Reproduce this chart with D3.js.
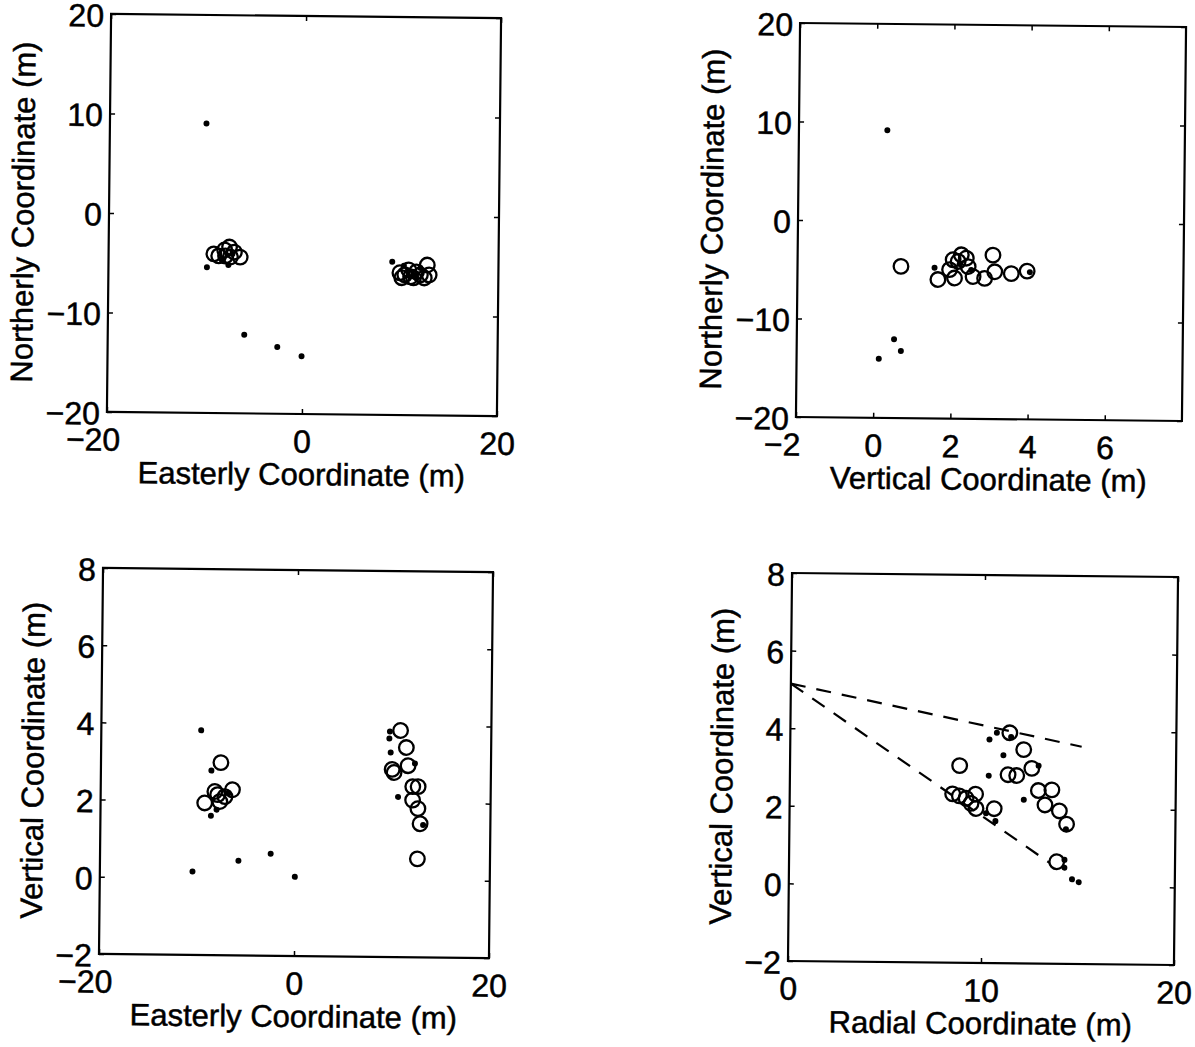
<!DOCTYPE html>
<html>
<head>
<meta charset="utf-8">
<script src="https://cdn.jsdelivr.net/npm/d3@7"></script>
<style>
  body { margin: 0; background: #fff; }
  text { font-family: "Liberation Sans", Arial, Helvetica, sans-serif; fill: #000; stroke: #000; stroke-width: 0.5; }
</style>
</head>
<body>
<svg id="fig" width="1195" height="1047"></svg>
<script>
// ---- data ----

// panel 1: easterly (x) vs northerly (y)
const enRings = [[-9.2,-4.0],[-8.1,-3.6],[-7.6,-3.3],[-7.1,-3.8],[-6.5,-4.3],[-8.0,-4.2],[-7.5,-4.3],[-8.7,-4.2],
  [9.9,-5.7],[10.8,-5.4],[11.6,-5.6],[12.7,-4.9],[12.9,-5.9],[12.0,-5.9],[10.1,-6.2],[11.0,-6.1],[12.4,-6.2],[11.3,-6.2],[10.4,-5.9]];
const enDots = [[-10.1,9.1],[-9.9,-5.35],[-6.0,-12.1],[-2.6,-13.3],[-0.1,-14.2],[-7.7,-5.1],[-8.3,-4.6],[-7.3,-4.0],
  [9.1,-4.6],[10.3,-5.0],[12.0,-5.2],[11.5,-6.0]];

// panel 2: vertical (x) vs northerly (y)
const vnRings = [[0.68,-4.6],[1.64,-5.9],[2.07,-5.73],[2.16,-4.04],[2.24,-3.36],[2.37,-3.7],[2.55,-5.56],[2.85,-5.73],
  [3.06,-3.36],[3.11,-5.05],[3.54,-5.22],[3.95,-4.95],[1.94,-4.88],[2.03,-3.87],[2.42,-4.55]];
const vnDots = [[0.29,9.2],[0.52,-12.0],[0.70,-13.2],[0.13,-14.0],[1.55,-4.7],[4.02,-5.05],[2.2,-4.3],[2.5,-4.9]];

// panel 3: easterly (x) vs vertical (y)
const evRings = [[-9.32,1.94],[-8.29,2.24],[-7.77,1.98],[-6.49,2.29],[-7.25,2.11],[-7.7,2.99],[-8.0,2.16],
  [10.69,3.87],[11.3,3.43],[11.5,2.96],[9.87,2.86],[10.07,2.78],[12.0,2.42],[12.55,2.42],[12.0,2.07],[12.55,1.85],[12.79,1.46],[12.55,0.55]];
const evDots = [[-9.76,3.82],[-10.5,0.16],[-5.8,0.45],[-2.5,0.64],[0,0.05],[-8.67,2.78],[-8.67,1.61],[-8.1,1.77],[-6.9,2.2],
  [9.6,3.84],[9.55,3.66],[9.7,3.3],[10.5,2.15],[12.2,3.02],[13.1,1.43]];

// panel 4: radial (x) vs vertical (y), with two dashed bounding lines
const rvRings = [[8.79,3.08],[8.44,2.35],[8.79,2.3],[9.14,2.24],[9.63,2.35],[9.4,2.11],[9.66,1.98],[10.6,1.98],
  [11.37,3.94],[12.1,3.51],[12.53,3.03],[11.3,2.86],[11.75,2.84],[12.88,2.46],[13.58,2.48],[13.23,2.09],[13.98,1.94],[14.36,1.6],[13.87,0.63]];
const rvDots = [[10.7,3.94],[10.32,3.76],[11.44,3.83],[11.05,3.36],[10.3,2.83],[12.13,2.22],[12.88,3.1],[10.67,1.66],
  [14.33,1.47],[14.27,0.68],[14.27,0.48],[14.67,0.18],[15.02,0.11],[10.18,1.86]];
const rvUpperLine = [[0,5.15],[15.1,3.6]];
const rvLowerLine = [[0,5.15],[13.5,0.6]];

// ticks
const eTicks = [-20, 0, 20];
const nTicks = [-20, -10, 0, 10, 20];
const vTicksX = [-2, 0, 2, 4, 6];
const vTicks = [-2, 0, 2, 4, 6, 8];
const rTicks = [0, 10, 20];

// ---- layout ----
const tilt = 0.6; // the scanned page is slightly rotated
const panels = [
  {cx:304, cy:215, w:390, h:398, xDom:[-20,20], yDom:[-20,20], xTicks:eTicks, yTicks:nTicks,
   xLabel:'Easterly Coordinate (m)', yLabel:'Northerly Coordinate (m)', rings:enRings, dots:enDots},
  {cx:991, cy:222, w:386, h:394, xDom:[-2,8], yDom:[-20,20], xTicks:vTicksX, yTicks:nTicks,
   xLabel:'Vertical Coordinate (m)', yLabel:'Northerly Coordinate (m)', rings:vnRings, dots:vnDots},
  {cx:296, cy:763, w:390, h:386, xDom:[-20,20], yDom:[-2,8], xTicks:eTicks, yTicks:vTicks,
   xLabel:'Easterly Coordinate (m)', yLabel:'Vertical Coordinate (m)', rings:evRings, dots:evDots},
  {cx:983, cy:769, w:386, h:388, xDom:[0,20], yDom:[-2,8], xTicks:rTicks, yTicks:vTicks,
   xLabel:'Radial Coordinate (m)', yLabel:'Vertical Coordinate (m)', rings:rvRings, dots:rvDots,
   lines:[rvUpperLine, rvLowerLine]}
];

const svg = d3.select('#fig');
const fmt = d3.format('d');

panels.forEach(p => {
  const g = svg.append('g')
    .attr('transform', `rotate(${tilt},${p.cx},${p.cy}) translate(${p.cx - p.w/2},${p.cy - p.h/2})`);

  const x = d3.scaleLinear().domain(p.xDom).range([0, p.w]);
  const y = d3.scaleLinear().domain(p.yDom).range([p.h, 0]);

  // bottom / left axes with labels, ticks pointing inward
  const xa = g.append('g').attr('transform', `translate(0,${p.h})`)
    .call(d3.axisBottom(x).tickValues(p.xTicks).tickSize(-5).tickPadding(16).tickFormat(fmt));
  const ya = g.append('g')
    .call(d3.axisLeft(y).tickValues(p.yTicks).tickSize(-5).tickPadding(7).tickFormat(fmt));
  // top / right: ticks only
  g.append('g').call(d3.axisTop(x).tickValues(p.xTicks).tickSize(-5).tickFormat(''));
  g.append('g').attr('transform', `translate(${p.w},0)`)
    .call(d3.axisRight(y).tickValues(p.yTicks).tickSize(-5).tickFormat(''));

  g.selectAll('.domain').remove();
  g.selectAll('.tick line').attr('stroke', '#000').attr('stroke-width', 1.5);
  g.selectAll('.tick text').attr('font-size', 32).attr('fill', '#000')
    .style('font-family', '"Liberation Sans", Arial, Helvetica, sans-serif');
  xa.selectAll('.tick text').filter(d => d < 0).attr('dx', -14);
  ya.selectAll('.tick text').attr('dy', '0.38em');

  g.append('rect').attr('width', p.w).attr('height', p.h)
    .attr('fill', 'none').attr('stroke', '#000').attr('stroke-width', 2.2);

  // dashed reference lines
  if (p.lines) {
    const line = d3.line().x(d => x(d[0])).y(d => y(d[1]));
    g.selectAll('.fit').data(p.lines).join('path')
      .attr('class', 'fit')
      .attr('d', line)
      .attr('fill', 'none').attr('stroke', '#000').attr('stroke-width', 2.2)
      .attr('stroke-dasharray', '15,11');
  }

  g.selectAll('.ring').data(p.rings).join('circle')
    .attr('class', 'ring')
    .attr('cx', d => x(d[0])).attr('cy', d => y(d[1])).attr('r', 7.3)
    .attr('fill', 'none').attr('stroke', '#000').attr('stroke-width', 2.3);

  g.selectAll('.dot').data(p.dots).join('circle')
    .attr('class', 'dot')
    .attr('cx', d => x(d[0])).attr('cy', d => y(d[1])).attr('r', 3)
    .attr('fill', '#000');

  // axis titles
  g.append('text').attr('x', p.w/2).attr('y', p.h + 71)
    .attr('text-anchor', 'middle').attr('font-size', 31).text(p.xLabel);

  const left = d3.min(ya.selectAll('.tick text').nodes(), n => n.getBBox().x);
  g.append('text')
    .attr('transform', `translate(${left - 14},${p.h/2}) rotate(-90)`)
    .attr('text-anchor', 'middle').attr('font-size', 31).text(p.yLabel);
});
</script>
</body>
</html>
